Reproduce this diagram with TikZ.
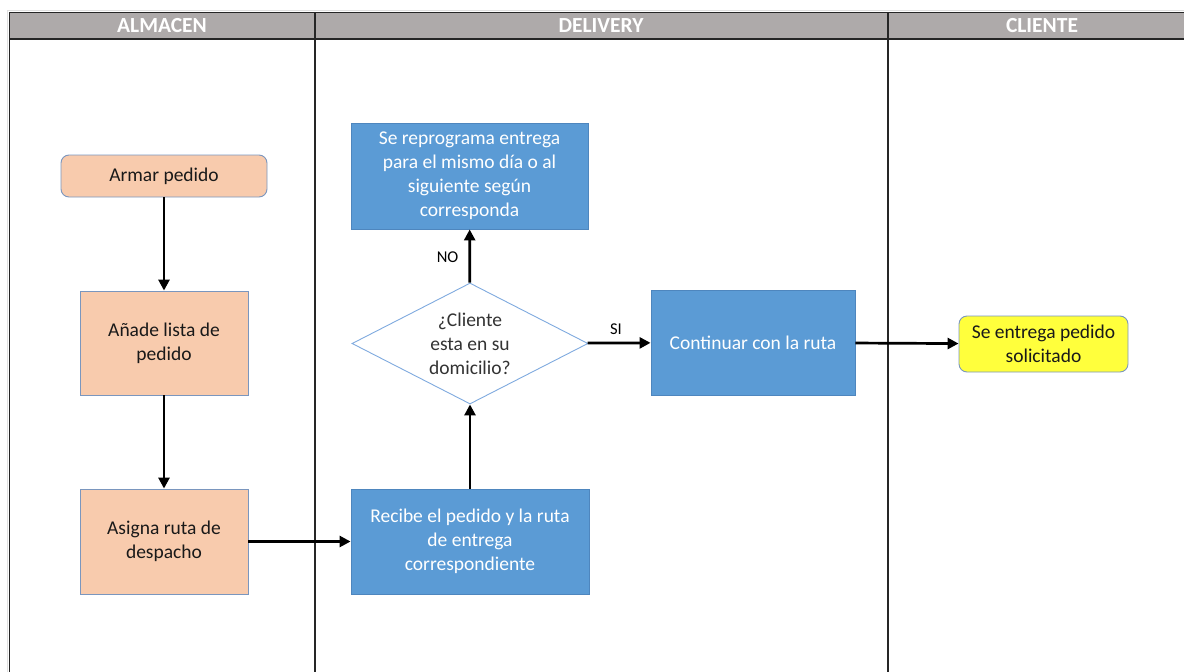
\documentclass[tikz,border=0pt]{standalone}
\usepackage{fontspec}
\setmainfont{Carlito}
\usepackage{tikz}
\usepackage{xcolor}
\usetikzlibrary{positioning, arrows.meta}
\usetikzlibrary{shapes, positioning}

\definecolor{headgray}{HTML}{AEAAAA}
\definecolor{peach}{HTML}{F8CBAD}
\definecolor{peachline}{HTML}{7A96BE}
\definecolor{bluebox}{HTML}{5B9BD5}
\definecolor{blueline}{HTML}{4E86BE}
\definecolor{diamline}{HTML}{7FAADF}
\definecolor{yellowbox}{HTML}{FFFF3C}

\begin{document}
\begin{tikzpicture}[x=1pt, y=-1pt,
    txt/.style={font=\fontsize{19.5}{24}\selectfont, align=center, inner sep=0pt},
    almbox/.style={txt, rectangle, draw=peachline, line width=0.9pt, fill=peach, text=black!90},
    delbox/.style={txt, rectangle, draw=blueline, line width=0.9pt, fill=bluebox, text=white},
    lanehead/.style={font=\fontsize{21.5}{24}\selectfont\bfseries, text=white, inner sep=0pt},
    flow/.style={line width=2.7pt, -{Triangle[length=11pt, width=11pt]}},
    lbl/.style={font=\fontsize{16.5}{20}\selectfont, inner sep=0pt}]
                \useasboundingbox (0,0) rectangle (1184,672);

                % lanes
                \draw[black!12, line width=1.5pt] (7.5,672) -- (7.5,10.5) -- (1186,10.5);
                \fill[headgray] (9.5,12.7) rectangle (1186,39);
                \draw[black!85, line width=1.3pt] (9.5,672) -- (9.5,12.7) -- (1186,12.7);
                \draw[black!85, line width=1.3pt] (9.5,39) -- (1186,39);
                \draw[black!85, line width=1.1pt] (315,12.7) -- (315,672);
                \draw[black!85, line width=1.1pt] (888,12.7) -- (888,672);
                \node[lanehead] (almacen) at (162, 26) {ALMACEN};
                \node[lanehead] (delivery) at (601, 26) {DELIVERY};
                \node[lanehead] (cliente) at (1042, 26) {CLIENTE};

                % boxes
                \node[almbox, rounded corners=8pt, minimum width=206pt, minimum height=42pt] (armar) at (164, 176) {Armar pedido};
                \node[almbox, minimum width=168pt, minimum height=104pt] (anade) at (164, 343) {Añade lista de\\pedido};
                \node[almbox, minimum width=168pt, minimum height=105pt] (asigna) at (164, 541.5) {Asigna ruta de\\despacho};
                \node[delbox, minimum width=238pt, minimum height=105pt] (recibe) at (470, 541.5) {Recibe el pedido y la ruta\\de entrega\\correspondiente};
                \node[txt, diamond, draw=diamline, line width=0.9pt, fill=white, text=black!80, shape aspect=1.95, minimum width=236pt, minimum height=121pt] (domicilio) at (470, 343.5) {¿Cliente\\esta en su\\domicilio?};
                \node[delbox, minimum width=237pt, minimum height=106pt] (reprograma) at (469.5, 176) {Se reprograma entrega\\para el mismo día o al\\siguiente según\\corresponda};
                \node[delbox, minimum width=204pt, minimum height=105pt] (continuar) at (753, 342.5) {Continuar con la ruta};
                \node[almbox, fill=yellowbox, rounded corners=8pt, minimum width=169pt, minimum height=56pt] (entrega) at (1043.5, 344) {Se entrega pedido\\solicitado};

                % arrows
                \draw[flow] (armar) -- (anade);
                \draw[flow] (anade) -- (asigna);
                \draw[flow] (asigna) -- (recibe);
                \draw[flow] (recibe) -- (domicilio);
                \draw[flow] (domicilio) -- node[lbl, left=10pt, pos=0.48] {NO} (reprograma);
                \draw[flow] (domicilio) -- node[lbl, above=7pt, pos=0.45] {SI} (continuar);
                \draw[flow] (continuar) -- (entrega);
            \end{tikzpicture}
\end{document}
